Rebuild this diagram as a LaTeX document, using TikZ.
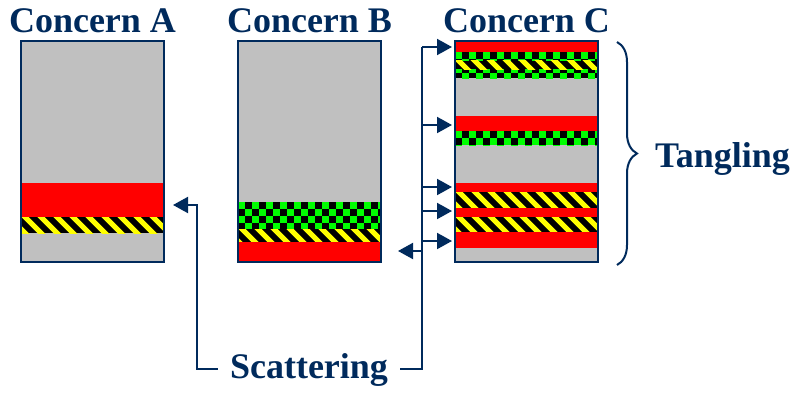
\documentclass[tikz,border=0pt]{standalone}
\usepackage{fontspec}
\setmainfont{Liberation Serif}
\usetikzlibrary{
  arrows.meta,
  positioning,
  decorations.pathreplacing
}
\definecolor{scNavy}{HTML}{002A5C}
\definecolor{scGray}{HTML}{C0C0C0}
\definecolor{scRed}{HTML}{FF0000}
\definecolor{scGreen}{HTML}{00FF00}
\definecolor{scYellow}{HTML}{FFFF00}
\tikzset{
  concern/.style={fill=scGray, minimum width=143pt, minimum height=221pt,
    inner sep=0pt, outer sep=0pt},
  frame/.style={draw=scNavy, line width=2pt},
  heading/.style={font=\fontsize{36}{40}\selectfont\bfseries, text=scNavy, inner sep=3pt},
  flow/.style={-{Triangle[length=15pt,width=16pt]}, line width=2pt, scNavy},
  wire/.style={line width=2pt, scNavy},
  stripe/.style={scYellow, line width=5pt},
  chequer/.style={fill=scGreen},
  redband/.style={fill=scRed},
  brace/.style={decorate, decoration={brace, amplitude=20pt}, line width=2pt, scNavy}
}
% hazard stripes: x1,y1,x2,y2
\newcommand\stripeband[4]{%
  \begin{scope}
    \clip (#1,#2) rectangle (#3,#4);
    \fill[black] (#1,#2) rectangle (#3,#4);
    \foreach \s in {-32,-16,...,160}
      \draw[stripe] (#1+\s,#2-4) -- ++(30,30);
  \end{scope}}
% green/black chequers: x1,y1,x2,y2
\newcommand\checkband[4]{%
  \begin{scope}
    \clip (#1,#2) rectangle (#3,#4);
    \fill[black] (#1,#2) rectangle (#3,#4);
    \foreach \r [evaluate=\r as \off using {7*mod(\r,2)}] in {0,...,3}
      \foreach \c in {0,14,...,140}
        \fill[chequer] ({#1+\c+\off},{#2+7*\r}) rectangle ++(7,7);
  \end{scope}}

\begin{document}
\begin{tikzpicture}[x=1pt, y=-1pt]
  \useasboundingbox (0,0) rectangle (805,396);

  % the three concerns
  \node[concern] (boxA) at (92.5,151.5) {};
  \node[concern] (boxB) at (309.5,151.5) {};
  \node[concern] (boxC) at (526.5,151.5) {};

  % concern A
  \fill[redband] (21,183) rectangle (164,217);
  \stripeband{21}{217}{164}{233}

  % concern B
  \checkband{238}{202}{381}{229}
  \stripeband{238}{229}{381}{242}
  \fill[redband] (238,242) rectangle (381,262);

  % concern C
  \fill[redband] (455,41) rectangle (598,52);
  \checkband{455}{52}{598}{78}
  \stripeband{455}{61}{598}{69}
  \fill[redband] (455,116) rectangle (598,131);
  \checkband{455}{131}{598}{145}
  \fill[redband] (455,183) rectangle (598,192);
  \stripeband{455}{192}{598}{208}
  \fill[redband] (455,208) rectangle (598,217);
  \stripeband{455}{217}{598}{232}
  \fill[redband] (455,232) rectangle (598,248);

  \foreach \b in {boxA,boxB,boxC}
    \draw[frame] (\b.north west) rectangle (\b.south east);

  \node[heading, above=5pt of boxA] (titleA) {Concern A};
  \node[heading, above=5pt of boxB] (titleB) {Concern B};
  \node[heading, above=5pt of boxC] (titleC) {Concern C};

  % scattering
  \node[heading, anchor=base] (scat) at (309,378) {Scattering};
  \coordinate (hookA) at (197,205);
  \draw[flow, shorten <=9pt, shorten >=9pt] (scat.west) -| (hookA) -- (hookA -| boxA.east);
  \foreach \y [count=\i] in {47,125,187,211,241,251}
    \coordinate (s\i) at (422,\y);
  \draw[wire, shorten <=9pt] (scat.east) -| (s1);
  \foreach \i in {1,...,5}
    \draw[flow, shorten >=3pt] (s\i) -- (s\i -| boxC.west);
  \draw[flow, shorten >=17pt] (s6) -- (s6 -| boxB.east);

  % tangling
  \draw[brace] (617,42) -- (617,265);
  \node[heading, anchor=base west] (tangle) at (652,167) {Tangling};
\end{tikzpicture}
\end{document}
